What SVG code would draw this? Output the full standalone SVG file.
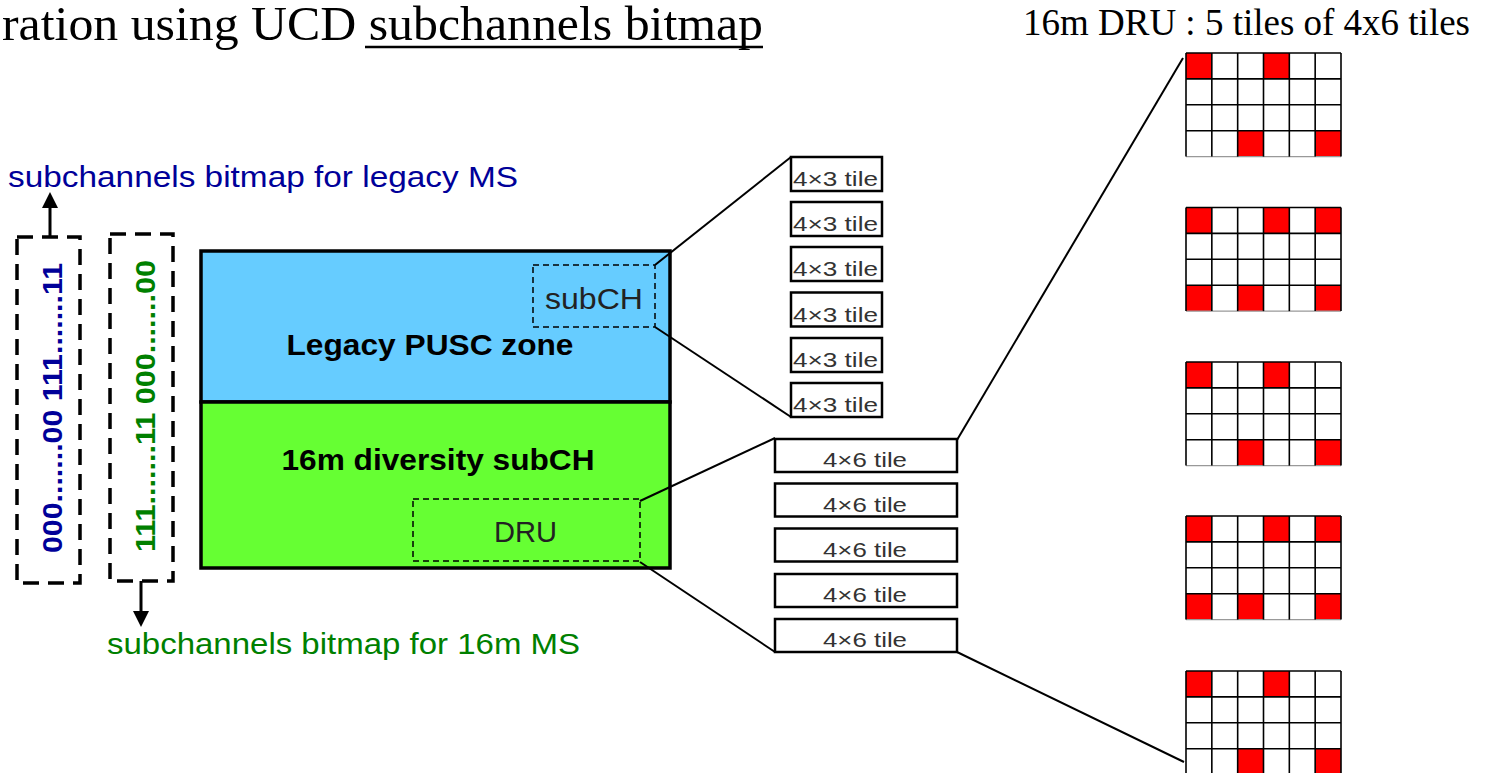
<svg xmlns="http://www.w3.org/2000/svg" xmlns:xlink="http://www.w3.org/1999/xlink" width="1491" height="773" viewBox="0 0 1491 773">
<style>
.serif{font-family:"Liberation Serif","Times New Roman",serif;fill:#000}
.sans{font-family:"Liberation Sans",Arial,sans-serif}
.bold{font-weight:bold}
.tile{fill:#fff;stroke:#000;stroke-width:2.5}
.tiletext{font-family:"Liberation Sans",Arial,sans-serif;font-size:20px;fill:#333}
.dash{fill:none;stroke:#000;stroke-width:3.5;stroke-dasharray:16 9}
.dashthin{fill:none;stroke:#000;stroke-width:1.5;stroke-dasharray:6 4}
.conn{stroke:#000;stroke-width:2;fill:none}
.red{fill:#ff0000}
.gl{stroke:#000;stroke-width:1.6}
.glb{stroke:#999;stroke-width:1.2}
</style>
<defs>
<marker id="ah" viewBox="0 0 10 10" refX="0" refY="5" markerWidth="16" markerHeight="16" markerUnits="userSpaceOnUse" orient="auto">
<path d="M0,0 L10,5 L0,10 z" fill="#000"/>
</marker>
<g id="gridlines">
<line class="gl" x1="0" y1="0" x2="155" y2="0"/>
<line class="gl" x1="0" y1="25.9" x2="155" y2="25.9"/>
<line class="gl" x1="0" y1="51.8" x2="155" y2="51.8"/>
<line class="gl" x1="0" y1="77.7" x2="155" y2="77.7"/>
<line class="glb" x1="0" y1="103.6" x2="155" y2="103.6"/>
<line class="gl" x1="0" y1="0" x2="0" y2="103.6"/>
<line class="gl" x1="25.83" y1="0" x2="25.83" y2="103.6"/>
<line class="gl" x1="51.67" y1="0" x2="51.67" y2="103.6"/>
<line class="gl" x1="77.5" y1="0" x2="77.5" y2="103.6"/>
<line class="gl" x1="103.33" y1="0" x2="103.33" y2="103.6"/>
<line class="gl" x1="129.17" y1="0" x2="129.17" y2="103.6"/>
<line class="gl" x1="155" y1="0" x2="155" y2="103.6"/>
</g>
<g id="gridA">
<rect x="0" y="0" width="155" height="103.6" fill="#fff"/>
<rect class="red" x="0" y="0" width="25.83" height="25.9"/>
<rect class="red" x="77.5" y="0" width="25.83" height="25.9"/>
<rect class="red" x="51.67" y="77.7" width="25.83" height="25.9"/>
<rect class="red" x="129.17" y="77.7" width="25.83" height="25.9"/>
<use xlink:href="#gridlines"/>
</g>
<g id="gridB">
<rect x="0" y="0" width="155" height="103.6" fill="#fff"/>
<rect class="red" x="0" y="0" width="25.83" height="25.9"/>
<rect class="red" x="77.5" y="0" width="25.83" height="25.9"/>
<rect class="red" x="129.17" y="0" width="25.83" height="25.9"/>
<rect class="red" x="0" y="77.7" width="25.83" height="25.9"/>
<rect class="red" x="51.67" y="77.7" width="25.83" height="25.9"/>
<rect class="red" x="129.17" y="77.7" width="25.83" height="25.9"/>
<use xlink:href="#gridlines"/>
</g>
</defs>
<rect width="1491" height="773" fill="#fff"/>

<g id="title">
<text class="serif" x="2" y="40" font-size="48" textLength="761" lengthAdjust="spacingAndGlyphs">ration using UCD subchannels bitmap</text>
<line x1="365" y1="47" x2="763" y2="47" stroke="#000" stroke-width="2.5"/>
</g>
<g id="dru-title">
<text class="serif" x="1023" y="35" font-size="37" textLength="447" lengthAdjust="spacingAndGlyphs">16m DRU : 5 tiles of 4x6 tiles</text>
</g>

<g id="legacy-label">
<text class="sans" x="8" y="187" font-size="29" fill="#000099" textLength="510" lengthAdjust="spacingAndGlyphs">subchannels bitmap for legacy MS</text>
</g>
<g id="16m-label">
<text class="sans" x="107" y="654" font-size="29" fill="#008000" textLength="473" lengthAdjust="spacingAndGlyphs">subchannels bitmap for 16m MS</text>
</g>

<g id="bitmap-legacy">
<rect class="dash" x="17" y="237" width="63" height="346"/>
<text class="sans bold" transform="translate(62,553) rotate(-90)" font-size="28" fill="#000099" textLength="290" lengthAdjust="spacingAndGlyphs">000.......00 111.......11</text>
</g>
<g id="bitmap-16m">
<rect class="dash" x="110" y="234" width="63" height="347"/>
<text class="sans bold" transform="translate(155,552) rotate(-90)" font-size="28" fill="#008000" textLength="292" lengthAdjust="spacingAndGlyphs">111.......11 000.......00</text>
</g>

<g id="frame">
<rect x="201" y="251" width="469" height="151" fill="#66ccff" stroke="#000" stroke-width="3.5"/>
<rect x="201" y="402" width="469" height="166" fill="#66ff33" stroke="#000" stroke-width="3.5"/>
<text class="sans bold" x="430" y="355" font-size="30" text-anchor="middle" textLength="287" lengthAdjust="spacingAndGlyphs">Legacy PUSC zone</text>
<text class="sans bold" x="438" y="470" font-size="30" text-anchor="middle" textLength="313" lengthAdjust="spacingAndGlyphs">16m diversity subCH</text>
</g>
<g id="subch">
<rect class="dashthin" x="533" y="265" width="122" height="62"/>
<text class="sans" x="545" y="309" font-size="29" fill="#222" textLength="98" lengthAdjust="spacingAndGlyphs">subCH</text>
</g>
<g id="dru">
<rect class="dashthin" x="413" y="499" width="227" height="62"/>
<text class="sans" x="494" y="542" font-size="29" fill="#222" textLength="63" lengthAdjust="spacingAndGlyphs">DRU</text>
</g>

<g id="tiles4x3">
<g id="t43-1"><rect class="tile" x="791" y="157" width="91" height="34"/><text class="tiletext" x="793" y="186" textLength="85" lengthAdjust="spacingAndGlyphs">4×3 tile</text></g>
<g id="t43-2"><rect class="tile" x="791" y="202" width="91" height="34"/><text class="tiletext" x="793" y="231" textLength="85" lengthAdjust="spacingAndGlyphs">4×3 tile</text></g>
<g id="t43-3"><rect class="tile" x="791" y="247" width="91" height="34"/><text class="tiletext" x="793" y="276" textLength="85" lengthAdjust="spacingAndGlyphs">4×3 tile</text></g>
<g id="t43-4"><rect class="tile" x="791" y="292.5" width="91" height="34"/><text class="tiletext" x="793" y="321.5" textLength="85" lengthAdjust="spacingAndGlyphs">4×3 tile</text></g>
<g id="t43-5"><rect class="tile" x="791" y="338" width="91" height="34"/><text class="tiletext" x="793" y="367" textLength="85" lengthAdjust="spacingAndGlyphs">4×3 tile</text></g>
<g id="t43-6"><rect class="tile" x="791" y="383" width="91" height="34"/><text class="tiletext" x="793" y="412" textLength="85" lengthAdjust="spacingAndGlyphs">4×3 tile</text></g>
</g>

<g id="tiles4x6">
<g id="t46-1"><rect class="tile" x="775" y="439" width="182" height="33"/><text class="tiletext" x="865" y="467" text-anchor="middle" textLength="84" lengthAdjust="spacingAndGlyphs">4×6 tile</text></g>
<g id="t46-2"><rect class="tile" x="775" y="483.5" width="182" height="33"/><text class="tiletext" x="865" y="511.5" text-anchor="middle" textLength="84" lengthAdjust="spacingAndGlyphs">4×6 tile</text></g>
<g id="t46-3"><rect class="tile" x="775" y="528.5" width="182" height="33"/><text class="tiletext" x="865" y="556.5" text-anchor="middle" textLength="84" lengthAdjust="spacingAndGlyphs">4×6 tile</text></g>
<g id="t46-4"><rect class="tile" x="775" y="574" width="182" height="33"/><text class="tiletext" x="865" y="602" text-anchor="middle" textLength="84" lengthAdjust="spacingAndGlyphs">4×6 tile</text></g>
<g id="t46-5"><rect class="tile" x="775" y="619" width="182" height="33"/><text class="tiletext" x="865" y="647" text-anchor="middle" textLength="84" lengthAdjust="spacingAndGlyphs">4×6 tile</text></g>
</g>

<g id="grid-1"><use xlink:href="#gridA" x="1186" y="53"/></g>
<g id="grid-2"><use xlink:href="#gridB" x="1186" y="207.5"/></g>
<g id="grid-3"><use xlink:href="#gridA" x="1186" y="362"/></g>
<g id="grid-4"><use xlink:href="#gridB" x="1186" y="516"/></g>
<g id="grid-5"><use xlink:href="#gridA" x="1186" y="671"/></g>

<g id="connectors">
<line class="conn" x1="655" y1="265" x2="791" y2="157"/>
<line class="conn" x1="655" y1="327" x2="791" y2="417"/>
<line class="conn" x1="640" y1="501" x2="775" y2="438"/>
<line class="conn" x1="640" y1="562" x2="775" y2="652"/>
<line class="conn" x1="957" y1="440" x2="1183" y2="58"/>
<line class="conn" x1="957" y1="652" x2="1184" y2="762"/>
<line x1="50" y1="237" x2="50" y2="208" stroke="#000" stroke-width="3" marker-end="url(#ah)"/>
<line x1="141" y1="581" x2="141" y2="611" stroke="#000" stroke-width="3" marker-end="url(#ah)"/>
</g>
</svg>
